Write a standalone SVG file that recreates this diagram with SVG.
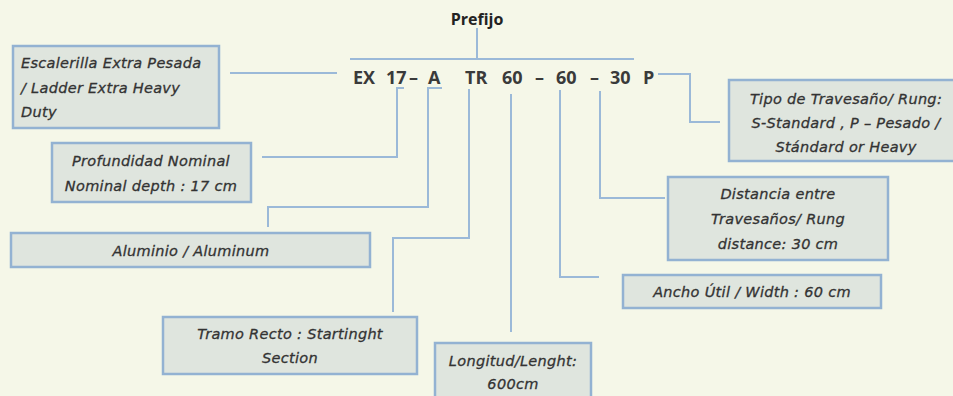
<svg xmlns="http://www.w3.org/2000/svg" width="953" height="396" viewBox="0 0 953 396">
<style>
.bg{fill:#f5f7e8}
.box{fill:#dfe5de;stroke:#93b2d2;stroke-width:2.5}
.lbl{font-family:"DejaVu Sans","Liberation Sans",sans-serif;font-style:italic;font-size:14.5px;letter-spacing:0.3px;fill:#333;stroke:#333;stroke-width:0.3}
.c{text-anchor:middle}
.code{font-family:"Open Sans","Liberation Sans",sans-serif;font-weight:bold;font-size:18px;fill:#3a3a3a}
.con{fill:none;stroke:#9bb9d8;stroke-width:2}
</style>
<rect class="bg" x="0" y="0" width="953" height="396"/>
<g id="title">
<text class="code c" x="477" y="25" style="font-size:16px;fill:#222">Prefijo</text>
</g>
<g id="code">
<text class="code" x="353" y="84">EX</text>
<text class="code" x="386" y="84">17</text>
<text class="code" x="409" y="84">–</text>
<text class="code" x="428" y="84">A</text>
<text class="code" x="465" y="84">TR</text>
<text class="code" x="502" y="84">60</text>
<text class="code" x="535" y="84">–</text>
<text class="code" x="556" y="84">60</text>
<text class="code" x="590" y="84">–</text>
<text class="code" x="610" y="84">30</text>
<text class="code" x="643" y="84">P</text>
</g>
<g id="connectors">
<path class="con" d="M477 28 V59 M350 59 H634"/>
<path class="con" d="M230 73 H337"/>
<path class="con" d="M658 74 H690 V122 H720"/>
<path class="con" d="M404 88 H397 V157 H262"/>
<path class="con" d="M442 88 H428 V207 H268 V227"/>
<path class="con" d="M469 89 V238 H393 V312"/>
<path class="con" d="M511 94 V332"/>
<path class="con" d="M560 90 V277 H599"/>
<path class="con" d="M600 91 V198 H665"/>
</g>
<g id="escalerilla">
<rect class="box" x="13" y="46" width="206" height="82"/>
<text class="lbl" x="21" y="68">Escalerilla Extra Pesada</text>
<text class="lbl" x="21" y="93">/ Ladder Extra Heavy</text>
<text class="lbl" x="21" y="117">Duty</text>
</g>
<g id="profundidad">
<rect class="box" x="52" y="143" width="199" height="59"/>
<text class="lbl c" x="151" y="166">Profundidad Nominal</text>
<text class="lbl c" x="151" y="191">Nominal depth : 17 cm</text>
</g>
<g id="aluminio">
<rect class="box" x="11" y="233" width="359" height="34"/>
<text class="lbl c" x="191" y="256">Aluminio / Aluminum</text>
</g>
<g id="tramo">
<rect class="box" x="163" y="317" width="254" height="57"/>
<text class="lbl c" x="290" y="339">Tramo Recto : Startinght</text>
<text class="lbl c" x="290" y="363">Section</text>
</g>
<g id="longitud">
<rect class="box" x="435" y="343" width="156" height="60"/>
<text class="lbl c" x="513" y="366">Longitud/Lenght:</text>
<text class="lbl c" x="513" y="389">600cm</text>
</g>
<g id="ancho">
<rect class="box" x="623" y="275" width="258" height="33"/>
<text class="lbl c" x="752" y="297">Ancho Útil / Width : 60 cm</text>
</g>
<g id="distancia">
<rect class="box" x="668" y="177" width="220" height="83"/>
<text class="lbl c" x="778" y="199">Distancia entre</text>
<text class="lbl c" x="778" y="224">Travesaños/ Rung</text>
<text class="lbl c" x="778" y="249">distance: 30 cm</text>
</g>
<g id="tipo">
<rect class="box" x="729" y="80" width="232" height="81"/>
<text class="lbl c" x="846" y="104">Tipo de Travesaño/ Rung:</text>
<text class="lbl c" x="846" y="128">S-Standard , P – Pesado /</text>
<text class="lbl c" x="846" y="152">Stándard  or Heavy</text>
</g>
</svg>
